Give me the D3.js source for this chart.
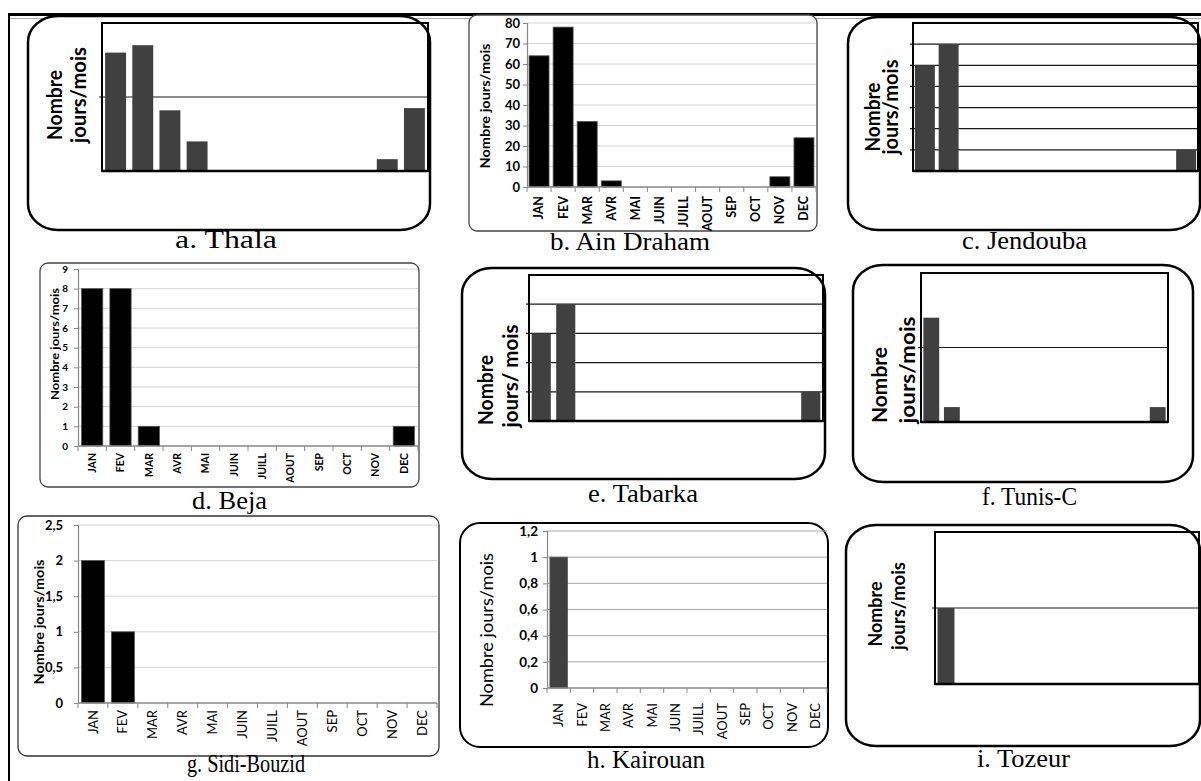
<!DOCTYPE html>
<html><head><meta charset="utf-8">
<script src="https://cdn.jsdelivr.net/npm/d3@7"></script>
<style>html,body{margin:0;padding:0;background:#fff;} svg{display:block;}</style>
</head><body><svg id="c" width="1201" height="781"></svg>
<script>
// ---------- DATA ----------
const months = ["JAN","FEV","MAR","AVR","MAI","JUIN","JUILL","AOUT","SEP","OCT","NOV","DEC"];
const thalaValues      = [16, 17, 8.2, 4, 0, 0, 0, 0, 0, 0, 1.6, 8.5];
const ainDrahamValues  = [64, 78, 32, 3, 0, 0, 0, 0, 0, 0, 5, 24];
const jendoubaValues   = [5, 6, 0, 0, 0, 0, 0, 0, 0, 0, 0, 1];
const bejaValues       = [8, 8, 1, 0, 0, 0, 0, 0, 0, 0, 0, 1];
const tabarkaValues    = [3, 4, 0, 0, 0, 0, 0, 0, 0, 0, 0, 1];
const tunisValues      = [7, 1, 0, 0, 0, 0, 0, 0, 0, 0, 0, 1];
const sidiBouzidValues = [2, 1, 0, 0, 0, 0, 0, 0, 0, 0, 0, 0];
const kairouanValues   = [1, 0, 0, 0, 0, 0, 0, 0, 0, 0, 0, 0];
const tozeurValues     = [1, 0, 0, 0, 0, 0, 0, 0, 0, 0, 0, 0];

const ainDrahamTicks = [0, 10, 20, 30, 40, 50, 60, 70, 80];
const ainDrahamTickLabels = ["0","10","20","30","40","50","60","70","80"];
const bejaTicks = [0, 1, 2, 3, 4, 5, 6, 7, 8, 9];
const bejaTickLabels = ["0","1","2","3","4","5","6","7","8","9"];
const sidiBouzidTicks = [0, 0.5, 1, 1.5, 2, 2.5];
const sidiBouzidTickLabels = ["0","0,5","1","1,5","2","2,5"];
const kairouanTicks = [0, 0.2, 0.4, 0.6, 0.8, 1, 1.2];
const kairouanTickLabels = ["0","0,2","0,4","0,6","0,8","1","1,2"];

const thalaGrid = [10], thalaMax = 20;
const jendoubaGrid = [1, 2, 3, 4, 5, 6], jendoubaMax = 7;
const tabarkaGrid = [1, 2, 3, 4], tabarkaMax = 5;
const tunisGrid = [5], tunisMax = 10;
const tozeurGrid = [1], tozeurMax = 2;

const titles = ["a. Thala","b. Ain Draham","c. Jendouba","d. Beja","e. Tabarka","f. Tunis-C","g. Sidi-Bouzid","h. Kairouan","i. Tozeur"];
const yTitle = "Nombre jours/mois";
const yTitleLines = ["Nombre", "jours/mois"];
const yTitleLinesTabarka = ["Nombre", "jours/ mois"];

// ---------- DRAWING ----------
const svg = d3.select("#c");
svg.append("rect").attr("width", 1201).attr("height", 781).attr("fill", "#fff");

function txt(g, o) {
  const t = g.append("text").text(o.text)
    .attr("font-family", o.family || "Lato")
    .attr("font-size", o.size)
    .attr("font-weight", o.weight || "normal")
    .attr("text-anchor", o.anchor || "middle")
    .attr("fill", o.fill || "#000")
    .attr("transform", `translate(${o.x},${o.y})` + (o.rot ? " rotate(-90)" : ""));
  if (o.dy) t.attr("dy", o.dy);
  if (o.len) t.attr("textLength", o.len).attr("lengthAdjust", "spacingAndGlyphs");
  return t;
}

// outer table frame
svg.append("line").attr("x1", 8).attr("x2", 1201).attr("y1", 14.5).attr("y2", 14.5)
  .attr("stroke", "#000").attr("stroke-width", 3);
svg.append("line").attr("x1", 10).attr("x2", 1201).attr("y1", 18.5).attr("y2", 18.5)
  .attr("stroke", "#aaa").attr("stroke-width", 1);
svg.append("line").attr("x1", 9).attr("x2", 9).attr("y1", 13).attr("y2", 781)
  .attr("stroke", "#000").attr("stroke-width", 2);

// "frame" style panels (a, c, e, f, i)
function framePanel(L, values, grid, max, lines) {
  const g = svg.append("g");
  g.append("rect").attr("x", L.box.x).attr("y", L.box.y).attr("width", L.box.w).attr("height", L.box.h)
    .attr("rx", L.box.rx).attr("ry", L.box.ry).attr("fill", "#fff").attr("stroke", "#000").attr("stroke-width", 2.5);
  const x = d3.scaleBand().domain(months).range([L.p.x0, L.p.x1]).paddingInner(L.pad).paddingOuter(L.pad / 2);
  const y = d3.scaleLinear().domain([0, max]).range([L.p.yb, L.p.yt]);
  g.selectAll("line.grid").data(grid).join("line").attr("class", "grid")
    .attr("x1", L.p.x0 - 3).attr("x2", L.p.x1).attr("y1", d => y(d)).attr("y2", d => y(d))
    .attr("stroke", "#1a1a1a").attr("stroke-width", 1.2);
  const data = months.map((m, i) => ({m, v: values[i]})).filter(d => d.v > 0);
  g.selectAll("rect.bar").data(data).join("rect").attr("class", "bar")
    .attr("x", d => x(d.m)).attr("width", x.bandwidth())
    .attr("y", d => y(d.v)).attr("height", d => y(0) - y(d.v)).attr("fill", "#404040");
  g.append("rect").attr("x", L.p.x0).attr("y", L.p.yt).attr("width", L.p.x1 - L.p.x0).attr("height", L.p.yb - L.p.yt)
    .attr("fill", "none").attr("stroke", "#000").attr("stroke-width", 2);
  g.append("line").attr("x1", L.p.x0).attr("x2", L.p.x1).attr("y1", y(0)).attr("y2", y(0))
    .attr("stroke", "#000").attr("stroke-width", 2.5);
  L.lab.forEach((l, i) => txt(g, {text: lines[i], x: l.bx, y: l.cy, rot: true, size: L.size, weight: "bold", len: l.len}));
}

framePanel({box: {x: 28, y: 16, w: 402, h: 214, rx: 30, ry: 26}, p: {x0: 102, x1: 428, yt: 23, yb: 171}, pad: 0.23, size: 20,
  lab: [{bx: 62, cy: 105, len: 70}, {bx: 86, cy: 95, len: 96}]}, thalaValues, thalaGrid, thalaMax, yTitleLines);
framePanel({box: {x: 848, y: 17, w: 352, h: 213, rx: 30, ry: 26}, p: {x0: 913, x1: 1198, yt: 23, yb: 171}, pad: 0.16, size: 20,
  lab: [{bx: 880, cy: 117, len: 69}, {bx: 898, cy: 107, len: 95}]}, jendoubaValues, jendoubaGrid, jendoubaMax, yTitleLines);
framePanel({box: {x: 462, y: 268, w: 363, h: 211, rx: 30, ry: 26}, p: {x0: 529, x1: 823, yt: 275, yb: 421}, pad: 0.22, size: 20,
  lab: [{bx: 493, cy: 390, len: 70}, {bx: 518, cy: 376, len: 103}]}, tabarkaValues, tabarkaGrid, tabarkaMax, yTitleLinesTabarka);
framePanel({box: {x: 853, y: 265, w: 340, h: 217, rx: 30, ry: 26}, p: {x0: 921, x1: 1168, yt: 273, yb: 422}, pad: 0.23, size: 21,
  lab: [{bx: 887, cy: 385, len: 76}, {bx: 915, cy: 370, len: 107}]}, tunisValues, tunisGrid, tunisMax, yTitleLines);
framePanel({box: {x: 846, y: 525, w: 354, h: 221, rx: 30, ry: 26}, p: {x0: 935, x1: 1199, yt: 532, yb: 684}, pad: 0.23, size: 19,
  lab: [{bx: 882, cy: 614, len: 65}, {bx: 905, cy: 606, len: 88}]}, tozeurValues, tozeurGrid, tozeurMax, yTitleLines);

// "excel" style panels (b, d, g, h)
function excelPanel(L, values, ticks, tickLabels) {
  const g = svg.append("g");
  g.append("rect").attr("x", L.box.x).attr("y", L.box.y).attr("width", L.box.w).attr("height", L.box.h)
    .attr("rx", L.box.r).attr("ry", L.box.r).attr("fill", "#fff").attr("stroke", L.boxStroke).attr("stroke-width", L.boxSw);
  const x = d3.scaleBand().domain(months).range([L.p.x0, L.p.x1]).paddingInner(L.pad).paddingOuter(L.pad / 2);
  const y = d3.scaleLinear().domain([0, ticks[ticks.length - 1]]).range([L.p.yb, L.p.yt]);
  g.selectAll("line.grid").data(ticks.filter(t => t > 0)).join("line").attr("class", "grid")
    .attr("x1", L.p.x0).attr("x2", L.p.x1).attr("y1", d => y(d)).attr("y2", d => y(d))
    .attr("stroke", L.gridColor).attr("stroke-width", 1);
  const data = months.map((m, i) => ({m, v: values[i]})).filter(d => d.v > 0);
  g.selectAll("rect.bar").data(data).join("rect").attr("class", "bar")
    .attr("x", d => x(d.m)).attr("width", x.bandwidth())
    .attr("y", d => y(d.v)).attr("height", d => y(0) - y(d.v))
    .attr("fill", L.barFill).attr("stroke", "#555").attr("stroke-width", 0.8);
  // y axis
  const yAxis = d3.axisLeft(y).tickValues(ticks).tickFormat((d, i) => tickLabels[i])
    .tickSize(4).tickPadding(L.p.x0 - L.tickRight - 4);
  const ya = g.append("g").attr("transform", `translate(${L.p.x0},0)`).call(yAxis);
  ya.select(".domain").attr("stroke", L.axisColor).attr("stroke-width", 1.2);
  ya.selectAll(".tick line").attr("stroke", L.axisColor);
  ya.selectAll(".tick text").attr("font-family", "Lato").attr("font-size", L.tickSize)
    .attr("font-weight", L.tickWeight).attr("fill", "#000");
  // x axis with boundary ticks
  g.append("line").attr("x1", L.p.x0).attr("x2", L.p.x1).attr("y1", y(0)).attr("y2", y(0))
    .attr("stroke", L.axisColor).attr("stroke-width", 1.3);
  g.selectAll("line.xt").data(d3.range(months.length + 1)).join("line").attr("class", "xt")
    .attr("x1", i => L.p.x0 + i * x.step()).attr("x2", i => L.p.x0 + i * x.step())
    .attr("y1", y(0)).attr("y2", y(0) + 5).attr("stroke", L.axisColor).attr("stroke-width", 1);
  months.forEach(m => txt(g, {text: m, x: x(m) + x.bandwidth() / 2, y: L.monthTop, rot: true, anchor: "end",
    dy: "0.35em", size: L.monthSize, weight: L.monthWeight}));
  txt(g, {text: yTitle, x: L.yl.bx, y: L.yl.cy, rot: true, size: L.yl.size, weight: L.yl.weight, len: L.yl.len});
}

excelPanel({box: {x: 469, y: 15, w: 348, h: 216, r: 8}, boxStroke: "#444", boxSw: 1.3,
  p: {x0: 527, x1: 816, yt: 23, yb: 187}, pad: 0.17, gridColor: "#d4d4d4", barFill: "#000", axisColor: "#888",
  tickRight: 520, tickSize: 13, tickWeight: "bold", monthTop: 196, monthSize: 12.5, monthWeight: "bold",
  yl: {bx: 490, cy: 106, len: 125, size: 14, weight: "bold"}}, ainDrahamValues, ainDrahamTicks, ainDrahamTickLabels);
excelPanel({box: {x: 40, y: 263, w: 379, h: 224, r: 8}, boxStroke: "#444", boxSw: 1.3,
  p: {x0: 78, x1: 418, yt: 269, yb: 446}, pad: 0.25, gridColor: "#d4d4d4", barFill: "#000", axisColor: "#888",
  tickRight: 68, tickSize: 10, tickWeight: "bold", monthTop: 453, monthSize: 10.5, monthWeight: "bold",
  yl: {bx: 59, cy: 344, len: 112, size: 12, weight: "bold"}}, bejaValues, bejaTicks, bejaTickLabels);
excelPanel({box: {x: 18, y: 516, w: 421, h: 240, r: 9}, boxStroke: "#333", boxSw: 1.3,
  p: {x0: 78, x1: 437, yt: 525, yb: 703}, pad: 0.23, gridColor: "#d4d4d4", barFill: "#000", axisColor: "#888",
  tickRight: 63, tickSize: 13, tickWeight: "bold", monthTop: 710, monthSize: 13, monthWeight: "normal",
  yl: {bx: 44, cy: 622, len: 125, size: 14, weight: "bold"}}, sidiBouzidValues, sidiBouzidTicks, sidiBouzidTickLabels);
excelPanel({box: {x: 460, y: 523, w: 368, h: 224, r: 20}, boxStroke: "#000", boxSw: 2,
  p: {x0: 547, x1: 827, yt: 531, yb: 688}, pad: 0.25, gridColor: "#a8a8a8", barFill: "#404040", axisColor: "#888",
  tickRight: 538, tickSize: 13.5, tickWeight: "bold", monthTop: 703, monthSize: 13, monthWeight: "normal",
  yl: {bx: 493, cy: 630, len: 154, size: 17, weight: "normal"}}, kairouanValues, kairouanTicks, kairouanTickLabels);

// panel captions
const titlePos = [
  {x: 175, y: 248, len: 102}, {x: 550, y: 250, len: 160}, {x: 962, y: 249, len: 125},
  {x: 192, y: 509, len: 75},  {x: 588, y: 502, len: 110}, {x: 982, y: 505, len: 95},
  {x: 187, y: 772, len: 118}, {x: 587, y: 768, len: 118}, {x: 977, y: 767, len: 93}
];
titles.forEach((t, i) => txt(svg, {text: t, x: titlePos[i].x, y: titlePos[i].y, anchor: "start",
  family: "Liberation Serif", size: 26, len: titlePos[i].len}));
</script></body></html>
